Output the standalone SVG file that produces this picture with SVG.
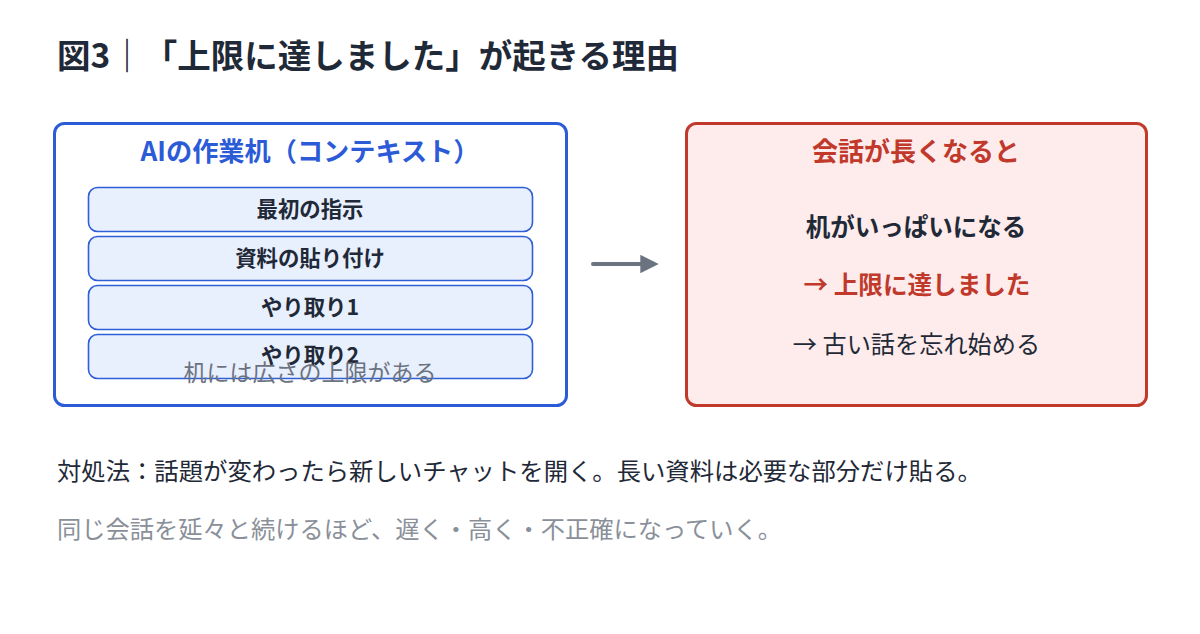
<svg xmlns="http://www.w3.org/2000/svg" width="1200" height="634" viewBox="0 0 1200 634">
<style>
text{font-family:"Noto Sans CJK JP","Noto Sans",sans-serif;}
.title{font-size:33.5px;font-weight:700;fill:#1f2937;}
.btitle{font-size:26.2px;font-weight:700;fill:#2b5bd7;text-anchor:middle;}
.item{fill:#e8effd;stroke:#2f5fd6;stroke-width:1.6;}
.itext{font-size:21.4px;font-weight:700;fill:#1f2937;text-anchor:middle;}
.note{font-size:23px;fill:#6b7280;text-anchor:middle;}
.rtitle{font-size:26px;font-weight:700;fill:#c0392b;text-anchor:middle;}
.rbold{font-size:24.5px;font-weight:700;fill:#1f2937;text-anchor:middle;}
.rred{font-size:24.6px;font-weight:700;fill:#c0392b;text-anchor:middle;}
.rnorm{font-size:24.2px;fill:#1f2937;text-anchor:middle;}
.body{font-size:24.35px;fill:#1f2937;}
.sub{font-size:24.25px;fill:#8a9099;}
</style>
<defs>
<marker id="ah" viewBox="0 0 10 10" refX="2" refY="5" markerWidth="4.6" markerHeight="4.6" orient="auto" markerUnits="strokeWidth">
<path d="M0,0 L10,5 L0,10 z" fill="#6b7280"/>
</marker>
</defs>
<rect width="1200" height="634" fill="#ffffff"/>
<g id="title">
<text class="title" x="57" y="68">図3｜「上限に達しました」が起きる理由</text>
</g>
<g id="context-box">
<rect x="54.5" y="123.5" width="512" height="282" rx="10" fill="#ffffff" stroke="#2b5bd7" stroke-width="3"/>
<text class="btitle" x="310" y="161">AIの作業机（コンテキスト）</text>
</g>
<g id="item1">
<rect class="item" x="88.5" y="187.5" width="444" height="44" rx="9"/>
<text class="itext" x="310" y="217">最初の指示</text>
</g>
<g id="item2">
<rect class="item" x="88.5" y="236.5" width="444" height="44" rx="9"/>
<text class="itext" x="310" y="266">資料の貼り付け</text>
</g>
<g id="item3">
<rect class="item" x="88.5" y="285.5" width="444" height="44" rx="9"/>
<text class="itext" x="310" y="315">やり取り1</text>
</g>
<g id="item4">
<rect class="item" x="88.5" y="334.5" width="444" height="44" rx="9"/>
<text class="itext" x="310" y="363">やり取り2</text>
</g>
<g id="desk-note">
<text class="note" x="310" y="381">机には広さの上限がある</text>
</g>
<g id="connectors">
<line x1="593" y1="264" x2="644" y2="264" stroke="#6b7280" stroke-width="4" stroke-linecap="round" marker-end="url(#ah)"/>
</g>
<g id="result-box">
<rect x="686.5" y="123.5" width="460" height="282" rx="10" fill="#fdeceb" stroke="#c0392b" stroke-width="3"/>
<text class="rtitle" x="916" y="161">会話が長くなると</text>
<text class="rbold" x="916" y="236">机がいっぱいになる</text>
<text class="rred" x="917" y="294">→ 上限に達しました</text>
<text class="rnorm" x="916.5" y="353">→ 古い話を忘れ始める</text>
</g>
<g id="footer">
<text class="body" x="57" y="480">対処法：話題が変わったら新しいチャットを開く。長い資料は必要な部分だけ貼る。</text>
<text class="sub" x="57" y="538">同じ会話を延々と続けるほど、遅く・高く・不正確になっていく。</text>
</g>
</svg>
